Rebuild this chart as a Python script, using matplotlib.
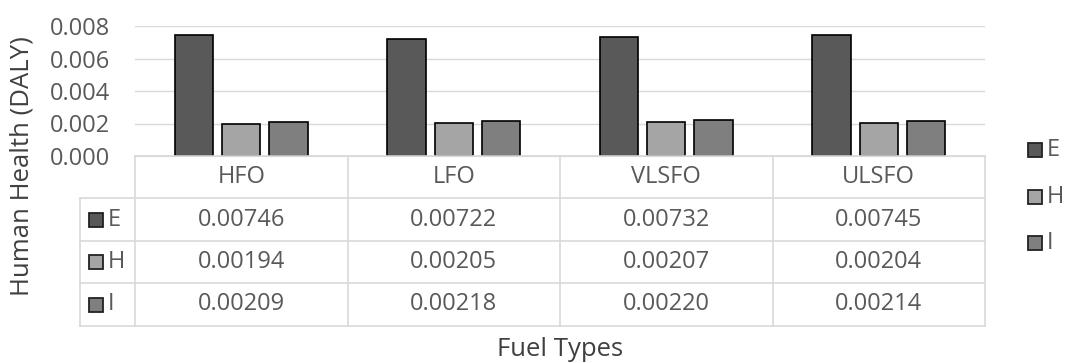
import numpy as np
import matplotlib.pyplot as plt
from matplotlib.patches import Rectangle

plt.rcParams['font.family'] = ['Open Sans', 'DejaVu Sans']

fuels = ["HFO", "LFO", "VLSFO", "ULSFO"]
series = ["E", "H", "I"]
values_e = [0.00746, 0.00722, 0.00732, 0.00745]
values_h = [0.00194, 0.00205, 0.00207, 0.00204]
values_i = [0.00209, 0.00218, 0.00220, 0.00214]
yticks = [0.000, 0.002, 0.004, 0.006, 0.008]

colors = ["#595959", "#a5a5a5", "#7f7f7f"]
text_color = "#595959"
line_color = "#d9d9d9"
fs = 17

W, H = 1069, 363
fig = plt.figure(figsize=(W / 100, H / 100), dpi=100)

# layout in pixels (left, top, right, bottom)
px_left, px_right = 135, 985
px_top, px_bottom = 26, 156

ax = fig.add_axes([px_left / W, 1 - px_bottom / H,
                   (px_right - px_left) / W, (px_bottom - px_top) / H])
data = [values_e, values_h, values_i]
x = np.arange(len(fuels))
bw = 0.18
gap = 0.042
for k, (vals, c) in enumerate(zip(data, colors)):
    ax.bar(x + (k - 1) * (bw + gap), vals, width=bw, color=c,
           edgecolor="black", linewidth=1.2, zorder=3)
ax.set_xlim(-0.5, len(fuels) - 0.5)
ax.set_ylim(0, 0.008)
ax.set_yticks(yticks)
ax.set_yticklabels([f"{v:.3f}" for v in yticks], fontsize=fs, color=text_color)
ax.tick_params(axis="y", length=0, pad=18)
ax.set_xticks([])
ax.grid(axis="y", color=line_color, linewidth=1, zorder=0)
for s in ["top", "right", "left"]:
    ax.spines[s].set_visible(False)
ax.spines["bottom"].set_color(line_color)

# overlay in pixel coordinates for the data table and legend
ov = fig.add_axes([0, 0, 1, 1])
ov.set_xlim(0, W)
ov.set_ylim(H, 0)
ov.axis("off")

col_edges = np.linspace(px_left, px_right, len(fuels) + 1)
row_edges = [156, 198, 241, 283, 326]
lab_left = 80

# horizontal lines
ov.plot([px_left, px_right], [row_edges[0]] * 2, color=line_color, lw=1.2)
for yy in row_edges[1:]:
    ov.plot([lab_left, px_right], [yy] * 2, color=line_color, lw=1.2)
# vertical lines
for xx in col_edges:
    ov.plot([xx, xx], [row_edges[0], row_edges[-1]], color=line_color, lw=1.2)
ov.plot([lab_left, lab_left], [row_edges[1], row_edges[-1]], color=line_color, lw=1.2)

centers = (col_edges[:-1] + col_edges[1:]) / 2
for cx, name in zip(centers, fuels):
    ov.text(cx, (row_edges[0] + row_edges[1]) / 2, name, ha="center", va="center",
            fontsize=fs, color=text_color)
for r, (name, vals, c) in enumerate(zip(series, data, colors)):
    cy = (row_edges[r + 1] + row_edges[r + 2]) / 2
    ov.add_patch(Rectangle((89, cy - 7), 14, 14, facecolor=c,
                           edgecolor="#222222", lw=1.3))
    ov.text(108, cy, name, ha="left", va="center", fontsize=fs, color=text_color)
    for cx, v in zip(centers, vals):
        ov.text(cx, cy, f"{v:.5f}", ha="center", va="center",
                fontsize=fs, color=text_color)

# legend at the right
for name, c, ly in zip(series, colors, [150, 197, 243]):
    ov.add_patch(Rectangle((1028, ly - 7), 14, 14, facecolor=c,
                           edgecolor="#222222", lw=1.3))
    ov.text(1047, ly, name, ha="left", va="center", fontsize=fs, color=text_color)

ov.text(22, 166, "Human Health (DALY)", rotation=90, ha="center", va="center",
        fontsize=18.5, color="#404040")
ov.text(560, 350, "Fuel Types", ha="center", va="center",
        fontsize=18.5, color="#404040")

fig.savefig("out.png", dpi=100)
